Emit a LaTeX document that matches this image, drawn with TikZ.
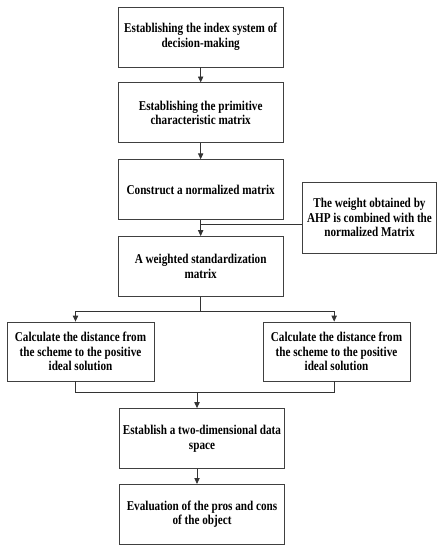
\documentclass[tikz,border=0pt]{standalone}
\usepackage{fontspec}
\setmainfont{Liberation Serif}[FakeStretch=0.83]
\usetikzlibrary{arrows.meta,positioning,calc}

\begin{document}
\begin{tikzpicture}[
    every node/.style={font=\bfseries\fontsize{11.5}{12.5}\selectfont},
    box/.style={rectangle, draw=black!75, line width=0.7pt, align=center, inner sep=0.1cm, minimum width=#1, minimum height=1.8cm},
    box/.default=4.95cm,
    mainbox/.style={box=4.95cm},
    sidebox/.style={box=4cm, minimum height=2.13cm},
    distbox/.style={box=4.41cm, minimum height=1.77cm},
    arr/.style={-{Triangle[length=5pt,width=4.5pt]}, line width=0.7pt, black!80},
    link/.style={line width=0.7pt, black!80},
]
\useasboundingbox (0,0) rectangle (13.23,-16.5);
\node[mainbox] (index) at (6.02, -1.11) {Establishing the index system of\\ decision-making};
\node[mainbox, below=0.45cm of index] (primitive) {Establishing the primitive\\ characteristic matrix};
\node[mainbox, below=0.48cm of primitive] (normal) {Construct a normalized matrix};
\node[mainbox, below=0.48cm of normal] (weighted) {A weighted standardization\\ matrix};
\node[sidebox] (ahp) at (11.085, -6.525) {The weight obtained by\\ AHP is combined with the\\ normalized Matrix};
\node[distbox] (posleft) at (2.415, -10.545) {Calculate the distance from\\ the scheme to the positive\\ ideal solution};
\node[distbox] (posright) at (10.095, -10.545) {Calculate the distance from\\ the scheme to the positive\\ ideal solution};
\node[mainbox] (space) at (6.06, -13.155) {Establish a two-dimensional data\\ space};
\node[mainbox, below=0.45cm of space] (pros) {Evaluation of the pros and cons\\ of the object};
\draw[arr] (index) -- (primitive);
\draw[arr] (primitive) -- (normal);
\draw[arr] (normal) -- (weighted);
\coordinate (join) at ($(normal.south)!0.3!(weighted.north)$);
\draw[link] (ahp.west |- join) -- (join);
\coordinate (split) at ($(weighted.south)+(0,-0.45)$);
\draw[link] (weighted.south) -- (split);
\draw[arr] (split) -| ([xshift=-0.15cm]posleft.north);
\draw[arr] (split) -| ([xshift=-0.07cm]posright.north);
\coordinate (merge) at ($([xshift=-0.15cm]space.north)+(0,0.48)$);
\draw[link] ([xshift=-0.15cm]posleft.south) |- (merge) -| ([xshift=-0.07cm]posright.south);
\draw[arr] (merge) -- (merge |- space.north);
\draw[arr] ([xshift=-0.15cm]space.south) -- ([xshift=-0.15cm]pros.north);
\end{tikzpicture}
\end{document}
